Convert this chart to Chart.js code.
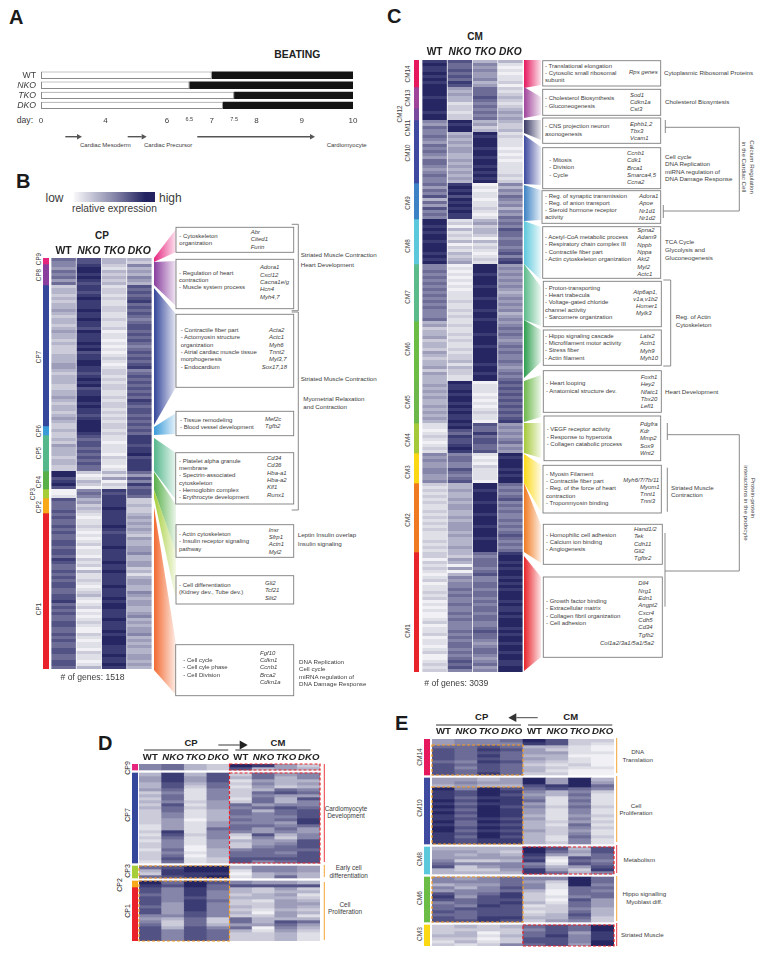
<!DOCTYPE html>
<html>
<head>
<meta charset="utf-8">
<title>Cluster heatmaps</title>
<script src="https://cdn.jsdelivr.net/npm/chart.js@4/dist/chart.umd.js"></script>
<style>
    html, body { margin: 0; background: #fff; }
    #page { position: relative; width: 765px; height: 956px; overflow: hidden; font-family: "Liberation Sans", Arial, sans-serif; }
    #page canvas, #page svg { position: absolute; display: block; }
    .t { position: absolute; white-space: nowrap; line-height: 1; color: #3c3c3c; }
</style>
</head>
<body>
<div id="page"></div>
<script>
// panel A
const lines_A = ['WT', 'NKO', 'TKO', 'DKO'];
const beatingOnset = [7, 6.5, 7.5, 7.25];
const dayTicks = [0, 4, 6, 6.5, 7, 7.5, 8, 9, 10];
const lastDay = 10;

// panel B, CP clusters, digits are expression levels 0 (low) to 9 (high)
const cpNames = ['CP9', 'CP8', 'CP7', 'CP6', 'CP5', 'CP4', 'CP3', 'CP2', 'CP1'];
const cpSizes = [2, 7, 47, 3, 12, 6, 3, 5, 52];
const cpWT = ['65', '5465646', '2332323343 2332343323 2223334432 3332233432 3323432', '232', '232433323322', '997897', '001', '76667',
    '6766767667 7677687667 6767766778 6767667766 7676677667 76'];
const cpNKO = ['77', '8998987', '8878988898 8988798889 8978899887 8989788998 9887899', '998', '767767676766', '201320', '565', '34232',
    '1011210101 2011021203 1121012310 1201012100 2101102110 13'];
const cpTKO = ['33', '2132323', '1221211221 1211201101 0101210122 1212211212 2121212', '212', '110111021101', '314021', '878', '88898',
    '8888987888 8988889889 8888988898 9988898889 8999888988 98'];
const cpDKO = ['32', '5343543', '7676786767 6567767676 5676767856 7676767687 6776767', '676', '888788978888', '647586', '776', '22322',
    '3434343243 3445334423 1344335434 4334534344 5343433443 43'];

// panel C, CM clusters
const cmNames = ['CM14', 'CM13', 'CM12', 'CM11', 'CM10', 'CM9', 'CM8', 'CM7', 'CM6', 'CM5', 'CM4', 'CM3', 'CM2', 'CM1'];
const cmSizes = [9, 7, 4, 4, 17, 12, 15, 19, 20, 14, 10, 10, 23, 40];
const cmWT = ['898898989', '9998999', '9899', '5465', '56546565466545655', '646573647565', '998989989998989',
    '5565656565 656565556', '3423342332 4323342433', '34343433434343', '1101210121', '5454455445',
    '2121212112 1212121112 121', '2202121012 0112120101 0012011201 1012001212'];
const cmNKO = ['766767687', '4343312', '2122', '9899', '34343443343434343', '898979898988', '120312130213234',
    '0101010101 112112121', '1211212112 1223132211', '98898998989889', '8976877898', '5665576567',
    '3343343443 3434443433 343', '3243040354 5565655655 6565556565 6656567675'];
const cmTKO = ['354544534', '6667656', '5656', '3423', '98999899 89989898 9', '010110112101', '342332031210121',
    '9998999899 989998998', '9999899989 9999899899', '01110101012110', '7668677667', '1010211110',
    '9989998999 8999899989 999', '6566656755 6656656566 5665567665 4566545645'];
const cmDKO = ['310101120', '2123212', '3434', '3223', '12111010 101111212', '535465453546', '565766566567578',
    '4545454543 454545345', '4565654565 6556545656', '76767676767678', '4545456454', '9899989899',
    '6565675656 5565656765 656', '8998989989 8989998988 9899989899 8998998899'];

// panel D, CP genes followed from CP to CM, '-' is the blank row between clusters
const dSizes = [2, 1, 30, 1, 4, 1, 2, 18];
const dCpWT = ['55', '-', '3443342323 2322222112 1212212221', '-', '6326', '-', '98', '7767776775 45677777'];
const dCpNKO = ['66', '-', '8887765665 7665544448 7655565676', '-', '7887', '-', '67', '5555544445 32235555'];
const dCpTKO = ['33', '-', '3443211112 1211101111 2111001011', '-', '9988', '-', '99', '8887888877 66677777'];
const dCpDKO = ['22', '-', '7776655554 4433334465 5544433322', '-', '9989', '-', '76', '6555655555 22356666'];
const dCmWT = ['97', '-', '2312122212 6566565665 2132256677', '-', '3101', '-', '57', '3323223232 66463222'];
const dCmNKO = ['83', '-', '6645436566 4635555644 7544566675', '-', '5533', '-', '47', '2233122102 33401222'];
const dCmTKO = ['44', '-', '4333267433 5766564565 3245665676', '-', '5546', '-', '47', '4343444344 37654333'];
const dCmDKO = ['23', '-', '5534356475 5677788644 5577767777', '-', '4433', '-', '37', '2312343231 36432111'];

// panel E, CM genes followed back to CP
const eSizes = [12, 1, 22, 1, 9, 1, 15, 1, 7];
const eCpWT = ['4467777677 77', '-', '4439888989 8988989988 88', '-', '344456733', '-', '5535478756 67677', '-', '2223212'];
const eCpNKO = ['5566666565 66', '-', '4545776767 6767667676 77', '-', '343425223', '-', '4543554665 76667', '-', '3233231'];
const eCpTKO = ['5578787877 78', '-', '3439998989 9998989899 88', '-', '334425423', '-', '5545567778 77788', '-', '2201012'];
const eCpDKO = ['6567666766 66', '-', '4437878887 8887878787 88', '-', '323435543', '-', '6667688787 77787', '-', '3223225'];
const eCmWT = ['9834434323 32', '-', '9976545645 4434333433 33', '-', '998785688', '-', '5455322231 21232', '-', '6566776'];
const eCmNKO = ['7732433212 12', '-', '4487331112 1111212221 12', '-', '764101346', '-', '5211001012 22334', '-', '7778777'];
const eCmTKO = ['2211101121 00', '-', '9996565656 5545465456 55', '-', '343767423', '-', '9996665766 56765', '-', '6645554'];
const eCmDKO = ['2100100001 00', '-', '3465211112 1121212112 11', '-', '776656785', '-', '6656566444 33322', '-', '9988899'];

const palette = ['#f1f1f5', '#dfdfe8', '#cbcbda', '#b4b4ca', '#9d9dba', '#8585a9', '#6c6c97', '#525285', '#3c3c75', '#262663'];
const cpColors = ['#e6257e', '#8a3f9e', '#35479b', '#3a9bd9', '#55b78c', '#58b04a', '#a6ce39', '#f7a81b', '#e8212a'];
const cmColors = ['#e6195f', '#a0449a', '#7a4a9e', '#3d4a9f', '#3d4a9f', '#3d82c4', '#5cc8dc', '#5bbb8a', '#6cbd45', '#6cb84b', '#a6c93a', '#fbd816', '#f07a21', '#e8242a'];
const FONT = '"Liberation Sans", Arial, sans-serif';
const ORANGE = '#f39a1f';
const RED = '#e8242a';

const page = document.getElementById('page');
const NS = 'http://www.w3.org/2000/svg';

const svg = document.createElementNS(NS, 'svg');
svg.setAttribute('width', 765);
svg.setAttribute('height', 956);
svg.style.left = '0';
svg.style.top = '0';
page.appendChild(svg);
const defs = document.createElementNS(NS, 'defs');
svg.appendChild(defs);

const shape = (name, attrs) => {
    const el = document.createElementNS(NS, name);
    Object.keys(attrs).forEach(k => el.setAttribute(k, attrs[k]));
    svg.appendChild(el);
    return el;
};

const label = (text, x, y, o = {}) => {
    const el = document.createElement('div');
    el.className = 't';
    el.textContent = text;
    el.style.left = x + 'px';
    el.style.top = y + 'px';
    el.style.fontSize = (o.size || 6) + 'px';
    if (o.italic) el.style.fontStyle = 'italic';
    if (o.bold) el.style.fontWeight = 'bold';
    if (o.color) el.style.color = o.color;
    let tf = o.center || o.rot ? 'translate(-50%,-50%)' : 'translateY(-50%)';
    if (o.rot) tf += ' rotate(' + o.rot + 'deg)';
    el.style.transform = tf;
    page.appendChild(el);
};

const lines = (x, y, step, texts, o) => texts.forEach((s, i) => label(s, x, y + i * step, o));
const genes = (x, y, texts) => lines(x, y, 7.35, texts, { italic: true });
const notes = (x, y, step, texts) => lines(x, y, step, texts, { size: 6.2 });

const box = (x1, y1, x2, y2) => shape('rect', { x: x1, y: y1, width: x2 - x1, height: y2 - y1, fill: '#fff', stroke: '#7d7d7d', 'stroke-width': 0.9 });
const path = (pts, color = '#7d7d7d', width = 0.9) => shape('polyline', { points: pts.map(p => p.join(',')).join(' '), fill: 'none', stroke: color, 'stroke-width': width });

const arrow = (x1, x2, y, color, width, head) => {
    const dir = x2 > x1 ? 1 : -1;
    path([[x1, y], [x2 - dir * head, y]], color, width);
    shape('polygon', { points: [[x2, y], [x2 - dir * head, y - head * 0.55], [x2 - dir * head, y + head * 0.55]].map(p => p.join(',')).join(' '), fill: color });
};

let wedgeId = 0;
const wedge = (x1, x2, ly1, ly2, ry1, ry2, color) => {
    const id = 'w' + (wedgeId++);
    const grad = document.createElementNS(NS, 'linearGradient');
    grad.setAttribute('id', id);
    [[0, 1], [1, 0.12]].forEach(([at, op]) => {
        const stop = document.createElementNS(NS, 'stop');
        stop.setAttribute('offset', at);
        stop.setAttribute('stop-color', color);
        stop.setAttribute('stop-opacity', op);
        grad.appendChild(stop);
    });
    defs.appendChild(grad);
    shape('polygon', { points: `${x1},${ly1} ${x2},${ry1} ${x2},${ry2} ${x1},${ly2}`, fill: `url(#${id})` });
};

const addCanvas = (left, top, width, height) => {
    const c = document.createElement('canvas');
    c.width = width;
    c.height = height;
    c.style.left = left + 'px';
    c.style.top = top + 'px';
    page.appendChild(c);
    return c;
};

const parseColumn = (parts) => parts.join('').replace(/\s/g, '').split('').map(c => c === '-' ? null : Number(c));

// dashed frames around the rows and columns called out in D and E
const framePlugin = {
    id: 'frames',
    afterDatasetsDraw(chart, args, opts) {
        const { ctx, scales } = chart;
        (opts.items || []).forEach(f => {
            const x1 = scales.x.getPixelForValue(f.cols[0] - 0.5);
            const x2 = scales.x.getPixelForValue(f.cols[1] - 0.5);
            const y1 = scales.y.getPixelForValue(f.rows[0]);
            const y2 = scales.y.getPixelForValue(f.rows[1]);
            ctx.save();
            ctx.strokeStyle = f.color;
            ctx.lineWidth = 1.2;
            ctx.setLineDash([3, 2]);
            ctx.strokeRect(x1, y1, x2 - x1, y2 - y1);
            ctx.restore();
        });
    }
};

const HEAD = 16;
const PAD = 2;
const ROW = 3;

const heatmap = (x, y, width, names, columns, gap, frames, headPad, headSize) => {
    const cols = columns.map(parseColumn);
    const rows = cols[0].length;
    const datasets = [];
    for (let r = 0; r < rows; r++) {
        datasets.push({
            data: cols.map(() => 1),
            backgroundColor: cols.map(col => col[r] === null ? 'rgba(255,255,255,0)' : palette[col[r]]),
            barPercentage: gap,
            categoryPercentage: 1
        });
    }
    const canvas = addCanvas(x - PAD, y - HEAD, width + 2 * PAD, HEAD + rows * ROW + PAD);
    canvas.style.filter = 'blur(0.45px)';
    new Chart(canvas, {
        type: 'bar',
        data: { labels: names, datasets: datasets },
        plugins: [framePlugin],
        options: {
            responsive: false,
            animation: false,
            layout: { autoPadding: false, padding: { left: PAD, right: PAD, bottom: PAD } },
            plugins: { legend: { display: false }, tooltip: { enabled: false }, frames: { items: frames } },
            scales: {
                x: {
                    position: 'top',
                    stacked: true,
                    grid: { display: false, drawTicks: false },
                    border: { display: false },
                    afterFit: s => { s.height = HEAD; },
                    ticks: {
                        padding: headPad,
                        color: '#222',
                        autoSkip: false,
                        maxRotation: 0,
                        font: c => ({ family: FONT, size: headSize, weight: 'bold', style: c.index % 4 ? 'italic' : 'normal' })
                    }
                },
                y: { display: false, stacked: true, reverse: true, min: 0, max: rows }
            }
        }
    });
};

const sideBar = (x, y, width, sizes, colors) => {
    const total = sizes.reduce((a, b) => a + b, 0);
    new Chart(addCanvas(x, y, width, total * ROW), {
        type: 'bar',
        data: {
            labels: [''],
            datasets: sizes.map((n, i) => ({ data: [n], backgroundColor: colors[i], barPercentage: 1, categoryPercentage: 1 }))
        },
        options: {
            responsive: false,
            animation: false,
            layout: { autoPadding: false },
            plugins: { legend: { display: false }, tooltip: { enabled: false } },
            scales: {
                x: { display: false, stacked: true },
                y: { display: false, stacked: true, reverse: true, min: 0, max: total }
            }
        }
    });
};

// the day axis of A is schematic, its spacing changes along the axis
const dayStops = [0, 4, 6, 7, 8, 9, 10];
const dayPlaces = [0, 0.207, 0.404, 0.547, 0.691, 0.836, 1];
class DayScale extends Chart.LinearScale {
    getPixelForValue(v) {
        let i = 0;
        while (i < dayStops.length - 2 && v > dayStops[i + 1]) i++;
        const t = (v - dayStops[i]) / (dayStops[i + 1] - dayStops[i]);
        return this.getPixelForDecimal(dayPlaces[i] + t * (dayPlaces[i + 1] - dayPlaces[i]));
    }
}
DayScale.id = 'dayAxis';
DayScale.defaults = Chart.LinearScale.defaults;
Chart.register(DayScale);

// ---- A ----
label('A', 9, 16.5, { size: 20, bold: true, color: '#1a1a1a' });
label('BEATING', 274.3, 55, { size: 10.4, bold: true, color: '#222' });
label('day:', 16.7, 120, { size: 8.7 });
new Chart(addCanvas(0, 59.6, 368, 72), {
    type: 'bar',
    data: {
        labels: lines_A,
        datasets: [
            { data: beatingOnset.map(v => [0, v]), backgroundColor: '#fff', borderColor: '#8a8a8a', borderWidth: 1, borderSkipped: false, barPercentage: 0.73, categoryPercentage: 1 },
            { data: beatingOnset.map(v => [v, lastDay]), backgroundColor: '#141414', barPercentage: 0.73, categoryPercentage: 1 }
        ]
    },
    options: {
        responsive: false,
        animation: false,
        indexAxis: 'y',
        layout: { autoPadding: false, padding: { right: 15 } },
        plugins: { legend: { display: false }, tooltip: { enabled: false } },
        scales: {
            x: {
                type: 'dayAxis',
                min: 0,
                max: lastDay,
                grid: { display: false, drawTicks: false },
                border: { display: false },
                afterBuildTicks: s => { s.ticks = dayTicks.map(v => ({ value: v })); },
                afterFit: s => { s.height = 21.6; },
                ticks: {
                    padding: 6,
                    color: '#3c3c3c',
                    autoSkip: false,
                    maxRotation: 0,
                    callback: v => String(v),
                    font: c => ({ family: FONT, size: c.tick && c.tick.value % 1 ? 5.5 : 8 })
                }
            },
            y: {
                stacked: true,
                grid: { display: false, drawTicks: false },
                border: { display: false },
                afterFit: s => { s.width = 41; },
                ticks: {
                    padding: 5,
                    color: '#3c3c3c',
                    autoSkip: false,
                    font: c => ({ family: FONT, size: 8.7, style: c.index ? 'italic' : 'normal' })
                }
            }
        }
    }
});
arrow(65.3, 82, 136.7, '#555', 1.4, 5);
arrow(127.7, 146.7, 136.7, '#555', 1.4, 5);
arrow(197.3, 315, 136.7, '#555', 1.4, 5);
label('Cardiac Mesoderm', 80, 145, { size: 6 });
label('Cardiac Precursor', 144, 145, { size: 6 });
label('Cardiomyocyte', 326.7, 145, { size: 6 });

// ---- B ----
label('B', 16, 181, { size: 20, bold: true, color: '#1a1a1a' });
label('low', 45.5, 197.5, { size: 12 });
label('high', 159, 197.5, { size: 12 });
label('relative expression', 72, 208.5, { size: 10.2 });
const ramp = document.createElement('div');
ramp.style.cssText = 'position:absolute;left:74px;top:192px;width:81px;height:10.3px;background:linear-gradient(90deg,#f8f8fa,#8585a9 50%,#232361 88%)';
page.appendChild(ramp);
label('CP', 102, 235.7, { size: 10, bold: true, center: true, color: '#222' });

[
    [258, 262, 229, 252, 0], [262, 285, 261, 306, 1], [288, 425, 314, 387, 2], [427, 435, 413, 434, 3],
    [438, 471, 453, 500, 4], [472, 490, 505, 552, 5], [490, 498, 552, 600, 6]
].forEach(w => wedge(154, 176, w[0], w[1], w[2], w[3], cpColors[w[4]]));
wedge(154, 176, 507, 670, 644, 695, '#f26b33');

sideBar(43, 258, 6, cpSizes, cpColors);
heatmap(51, 258, 101, lines_A, [cpWT, cpNKO, cpTKO, cpDKO], 0.97, [], 1, 10.4);
[[38.5, 259, 0], [38.5, 275, 1], [38.5, 357, 2], [38.5, 431, 3], [38.5, 453, 4], [38.5, 482, 5], [33.3, 494, 6], [38.5, 507, 7], [38.5, 609, 8]]
    .forEach(p => label(cpNames[p[2]], p[0], p[1], { size: 6.3, rot: -90, center: true }));
label('# of genes: 1518', 60.5, 676.7, { size: 8.6 });

box(176, 227.3, 293.7, 252.3);
lines(179.3, 236, 7.3, ['- Cytoskeleton', 'organization']);
genes(250.7, 232, ['Abr', 'Cited1', 'Furin']);
box(176, 259.3, 293.7, 308.7);
lines(179, 272.7, 7.3, ['- Regulation of heart', 'contraction', '- Muscle system process']);
genes(260, 267.3, ['Adora1', 'Cxcl12', 'Cacna1e/g', 'Hcn4', 'Myh4,7']);
box(176, 314.3, 293.7, 387.3);
lines(180.7, 330, 7.33, ['- Contractile fiber part', '- Actomyosin structure', 'organization', '- Atrial cardiac muscle tissue', 'morphogenesis', '- Endocardium']);
genes(269, 330, ['Acta2', 'Actc1', 'Myh6', 'Tnnt2', 'Myl3,7']);
genes(261.7, 367, ['Sox17,18']);
box(176, 411.3, 293.7, 435.7);
lines(180, 419.7, 7.3, ['- Tissue remodeling', '- Blood vessel development']);
genes(265, 419, ['Mef2c', 'Tgfb2']);
box(175.7, 452.7, 293.7, 504);
lines(179, 460.7, 7.3, ['- Platelet alpha granule', 'membrane', '- Spectrin-associated', 'cytoskeleton', '- Hemoglobin complex', '- Erythrocyte development']);
genes(267, 458, ['Cd34', 'Cd36', 'Hba-a1', 'Hba-a2', 'Klf1', 'Runx1']);
box(176, 524.7, 293.7, 557.3);
lines(179, 534, 7.3, ['- Actin cytoskeleton', '- Insulin receptor signaling', 'pathway']);
genes(268.7, 529.7, ['Insr', 'Sfrp1', 'Actn1', 'Myl2']);
box(176, 575.7, 293.7, 604);
lines(179, 584.7, 7.3, ['- Cell differentiation', '(Kidney dev., Tube dev.)']);
genes(265, 583, ['Gli2', 'Tcf21', 'Slit2']);
box(175.7, 644.7, 293.7, 695.7);
lines(183.3, 659.7, 7.4, ['- Cell cycle', '- Cell cyle phase', '- Cell Division']);
genes(260, 652.7, ['Fgf10', 'Cdkn1', 'Ccnb1', 'Brca2', 'Cdkn1a']);

path([[291.7, 224.3], [298.3, 224.3], [298.3, 310.7], [291.7, 310.7]]);
path([[291.7, 312], [298.3, 312], [298.3, 510], [291.7, 510]]);
notes(300.7, 255.3, 10, ['Striated Muscle Contraction', 'Heart Development']);
notes(300.7, 379.3, 7.3, ['Striated Muscle Contraction']);
notes(303.3, 399, 7.7, ['Myometrial Relaxation', 'and Contraction']);
notes(297.7, 535.3, 9, ['Leptin Insulin overlap', 'Insulin signaling']);
notes(299, 662, 7.4, ['DNA Replication', 'Cell cycle', 'miRNA regulation of', 'DNA Damage Response']);

// ---- C ----
label('C', 387, 16, { size: 20, bold: true, color: '#1a1a1a' });
label('CM', 475, 37.3, { size: 10, bold: true, center: true, color: '#222' });

[
    [60, 88, 60, 85, 0], [87, 118, 97, 115, 1], [135, 184, 147, 185, 4], [185, 221, 190, 220, 5],
    [221, 264, 227, 280, 6], [264, 320, 287, 326, 7], [381, 422, 375, 417, 9], [423, 453, 423, 458, 10],
    [454, 483, 465, 512, 11], [483, 552, 525, 563, 12], [556, 671, 577, 657, 13]
].forEach(w => wedge(524, 541, w[0], w[1], w[2], w[3], cmColors[w[4]]));
wedge(524, 541, 120, 133, 120, 140, '#3a3a66');
wedge(524, 541, 320, 378, 330, 362, '#2e9e4f');

sideBar(414, 60, 5.5, cmSizes, cmColors);
heatmap(421.7, 60, 101, lines_A, [cmWT, cmNKO, cmTKO, cmDKO], 0.97, [], 2, 10.2);
[[408.3, 73.7, 0], [408.3, 97.7, 1], [400.3, 114, 2], [408.3, 128.3, 3], [408.3, 153.3, 4], [408.3, 203.3, 5], [408.3, 246, 6], [408.3, 296.7, 7],
    [408.3, 349, 8], [408.3, 402.3, 9], [408.3, 440, 10], [408.3, 471.7, 11], [408.3, 520, 12], [408.3, 631, 13]]
    .forEach(p => label(cmNames[p[2]], p[0], p[1], { size: 6.3, rot: -90, center: true }));
label('# of genes: 3039', 424.3, 682.7, { size: 8.6 });

box(542.7, 60.7, 660.7, 86);
lines(545, 65.7, 7.2, ['- Translational elongation', '- Cytosolic small ribosomal', 'subunit']);
genes(629, 72.3, ['Rps genes']);
notes(664, 72.7, 7, ['Cytoplasmic Ribosomal Proteins']);
box(542.7, 89.3, 660.7, 115.3);
lines(545, 98.3, 7.4, ['- Cholesterol Biosynthesis', '- Gluconeogenesis']);
genes(630, 94.7, ['Sod1', 'Cdkn1a', 'Cst3']);
notes(665, 102, 7, ['Cholesterol Biosyntesis']);
box(542.7, 118, 660.7, 143.3);
lines(545, 126, 7.6, ['- CNS projection neuron', 'axonogenesis']);
genes(630, 123.7, ['Ephb1,2', 'Tbx3', 'Vcam1']);
box(542.7, 147.7, 660.7, 188.7);
lines(549.3, 160, 7.3, ['- Mitosis', '- Division', '- Cycle']);
genes(627, 153, ['Ccnb1', 'Cdk1', 'Brca1', 'Smarca4,5', 'Ccna2']);
notes(665, 157, 7.35, ['Cell cycle', 'DNA Replication', 'miRNA regulation of', 'DNA Damage Response']);
box(542, 190.7, 660.7, 223.3);
lines(545, 195.7, 7.2, ['- Reg. of synaptic transmission', '- Reg. of anion transport', '- Steroid hormone receptor', 'activity']);
genes(639, 196, ['Adora1', 'Apoe', 'Nr1d1', 'Nr1d2']);
box(542.7, 226.7, 660.7, 278.3);
lines(545, 237, 7.35, ['- Acetyl-CoA metabolic process', '- Respiratory chain complex III', '- Contractile fiber part', '- Actin cytoskeleton organization']);
genes(637.3, 230, ['Spna2', 'Adam9', 'Nppb', 'Nppa', 'Akt2', 'Myl2', 'Actc1']);
notes(665, 242, 8, ['TCA Cycle', 'Glycolysis and', 'Gluconeogenesis']);
box(543.3, 281.3, 661.3, 326.7);
lines(545, 287.7, 7.33, ['- Proton-transporting', '- Heart trabecula', '- Voltage-gated chloride', 'channel activity', '- Sarcomere organization']);
genes(633.3, 292, ['Atp6ap1,', 'v1a,v1b2']);
genes(636, 305.7, ['Homer1', 'Mylk3']);
box(543.3, 330, 661.3, 365.3);
lines(545, 335.7, 7.3, ['- Hippo signaling cascade', '- Microfilament motor activity', '- Stress fiber', '- Actin filament']);
genes(640, 336, ['Lats2', 'Actn1', 'Myh9', 'Myh10']);
notes(675.7, 317, 8, ['Reg. of Actin', 'Cytoskeleton']);
path([[663.3, 280], [670.7, 280], [670.7, 366], [663.3, 366]]);
path([[665.3, 120], [665.3, 133]]);
path([[665.3, 127.3], [739.3, 127.3], [739.3, 211], [663.3, 211]]);
path([[663.3, 205], [663.3, 218]]);
label('Calcium Regulation', 751.7, 166.7, { size: 6.2, rot: 90 });
label('in the Cardiac Cell', 744, 166.7, { size: 6.2, rot: 90 });

box(543.3, 370.7, 661.3, 412.3);
lines(546, 383, 7.6, ['- Heart looping', '- Anatomical structure dev.']);
genes(640.7, 377, ['Foxh1', 'Hey2', 'Nfatc1', 'Tbx20', 'Lefl1']);
notes(665, 392, 7, ['Heart Development']);
box(544, 416, 660.7, 460.7);
lines(546.7, 429.3, 7.35, ['- VEGF receptor activity', '- Response to hyperoxia', '- Collagen catabolic process']);
genes(640, 423.7, ['Pdgfra', 'Kdr', 'Mmp2', 'Sox9', 'Wnt2']);
box(543, 465.3, 661.3, 513);
lines(546, 473.7, 7.33, ['- Myosin Filament', '- Contractile fiber part', '- Reg. of the force of heart', 'contraction', '- Troponmyosin binding']);
genes(623.3, 479.7, ['Myh6/7/7b/11']);
genes(640, 486.7, ['Myom1', 'Tnnt1', 'Tnni3']);
notes(671, 487.7, 7.4, ['Striated Muscle', 'Contraction']);
path([[667.3, 467.7], [667.3, 511.7]]);
box(543.3, 524.3, 662.3, 564.3);
lines(546, 534.7, 7.3, ['- Homophilic cell adhesion', '- Calcium ion binding', '- Angiogenesis']);
genes(634, 529, ['Hand1/2', 'Tek', 'Cdh11', 'Gli2', 'Tgfbr2']);
box(543.3, 577, 662.3, 657.3);
lines(546, 601, 7.33, ['- Growth factor binding', '- Extracellular matrix', '- Collagen fibril organization', '- Cell adhesion']);
genes(638.3, 583.3, ['Dll4', 'Nrg1', 'Edn1', 'Angpt2', 'Cxcr4', 'Cdh5', 'Cd34', 'Tgfb2']);
genes(600, 643, ['Col1a2/3a1/5a1/5a2']);
path([[667.3, 423], [667.3, 440]]);
path([[667.3, 434.7], [739.3, 434.7], [739.3, 571], [665, 571]]);
path([[665, 533], [665, 606.7]]);
label('Protein-protein', 753.3, 498.3, { size: 6.2, rot: 90 });
label('interactions in the podocyte', 745.7, 503, { size: 6.2, rot: 90 });

// ---- D ----
const twoStages = lines_A.concat(lines_A);
label('D', 98, 742.5, { size: 20, bold: true, color: '#1a1a1a' });
label('CP', 191, 743, { size: 9.5, bold: true, center: true, color: '#222' });
label('CM', 278, 743, { size: 9.5, bold: true, center: true, color: '#222' });
path([[144, 750], [228.3, 750]], '#222', 0.9);
path([[235.3, 750], [310.7, 750]], '#222', 0.9);
arrow(218.3, 247.7, 745, '#222', 0.9, 8);
sideBar(132, 764, 6.5, dSizes, ['#e6257e', 'rgba(255,255,255,0)', '#35479b', 'rgba(255,255,255,0)', '#a6ce39', 'rgba(255,255,255,0)', '#f7a81b', '#e8212a']);
heatmap(139, 764, 181.7, twoStages, [dCpWT, dCpNKO, dCpTKO, dCpDKO, dCmWT, dCmNKO, dCmTKO, dCmDKO], 1, [
    { cols: [4, 8], rows: [0, 2], color: RED },
    { cols: [4, 8], rows: [3, 33], color: RED },
    { cols: [0, 4], rows: [34, 38], color: ORANGE },
    { cols: [0, 4], rows: [39, 59], color: ORANGE }
], 1, 9.6);
[[126.7, 767.7, 'CP9'], [126.7, 815, 'CP7'], [126.7, 871, 'CP3'], [119.3, 885, 'CP2'], [126.7, 911, 'CP1']]
    .forEach(p => label(p[2], p[0], p[1], { size: 7, rot: -90, center: true, color: '#222' }));
path([[324.3, 764], [324.3, 862]], RED, 0.9);
path([[324.3, 865], [324.3, 877]], ORANGE, 0.9);
path([[324.3, 882], [324.3, 940]], ORANGE, 0.9);
[[346, 809, 'Cardiomyocyte'], [346, 816.3, 'Development'], [348.7, 868, 'Early cell'], [348.7, 875.7, 'differentiation'], [345, 904.7, 'Cell'], [345, 911.7, 'Proliferation']]
    .forEach(p => label(p[2], p[0], p[1], { size: 6.4, center: true }));

// ---- E ----
label('E', 395, 722.5, { size: 20, bold: true, color: '#1a1a1a' });
label('CP', 481.7, 717.3, { size: 9.5, bold: true, center: true, color: '#222' });
label('CM', 570.7, 717.3, { size: 9.5, bold: true, center: true, color: '#222' });
path([[436, 725], [521, 725]], '#222', 0.9);
path([[528, 725], [612.3, 725]], '#222', 0.9);
arrow(537.7, 508.3, 717.7, '#333', 0.9, 8);
sideBar(424.3, 739, 6, eSizes, ['#e6195f', 'rgba(255,255,255,0)', '#3d4a9f', 'rgba(255,255,255,0)', '#5cc8dc', 'rgba(255,255,255,0)', '#6cbd45', 'rgba(255,255,255,0)', '#fbd816']);
heatmap(432.3, 739, 182, twoStages, [eCpWT, eCpNKO, eCpTKO, eCpDKO, eCmWT, eCmNKO, eCmTKO, eCmDKO], 1, [
    { cols: [0, 4], rows: [2, 12], color: ORANGE },
    { cols: [0, 4], rows: [16, 35], color: ORANGE },
    { cols: [4, 8], rows: [36, 45], color: RED },
    { cols: [0, 4], rows: [46, 61], color: ORANGE },
    { cols: [4, 8], rows: [62, 69], color: RED }
], 2, 9.6);
[[420.3, 756.7, 'CM14'], [420.3, 808.3, 'CM10'], [420.3, 859, 'CM8'], [420.3, 898.3, 'CM6'], [420.3, 934.3, 'CM3']]
    .forEach(p => label(p[2], p[0], p[1], { size: 6.6, rot: -90, center: true }));
path([[616.7, 738], [616.7, 773]], ORANGE, 0.9);
path([[616.7, 776], [616.7, 842]], ORANGE, 0.9);
path([[616.7, 845], [616.7, 873]], RED, 0.9);
path([[616.7, 876], [616.7, 921]], ORANGE, 0.9);
path([[616.7, 923], [616.7, 946]], RED, 0.9);
[[637.7, 752.3, 'DNA'], [637.7, 759.7, 'Translation'], [636, 805.7, 'Cell'], [636, 813, 'Proliferation'], [639.3, 859.7, 'Metabolism'],
    [644.3, 894.3, 'Hippo signalling'], [644.3, 901.7, 'Myoblast diff.'], [642.3, 935, 'Striated Muscle']]
    .forEach(p => label(p[2], p[0], p[1], { size: 6.2, center: true }));
</script>
</body>
</html>
